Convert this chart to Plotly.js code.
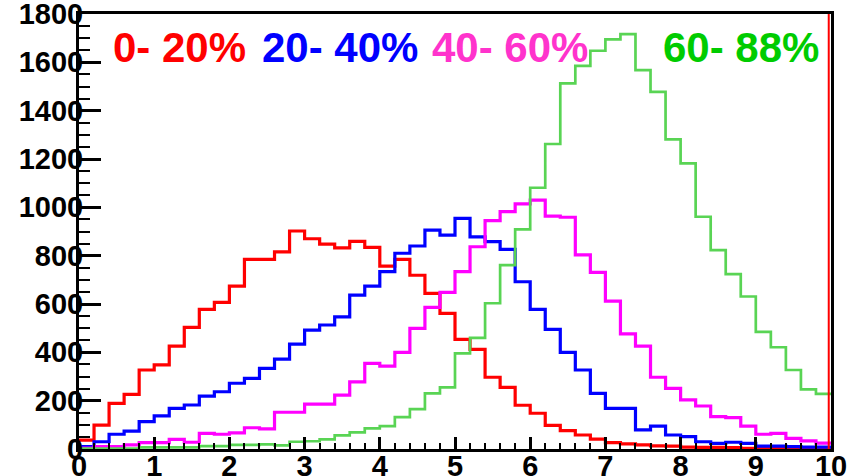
<!DOCTYPE html>
<html>
<head>
<meta charset="utf-8">
<script src="https://cdn.plot.ly/plotly-3.0.1.min.js"></script>
<style>
html,body{margin:0;padding:0;background:#fff;}
#chart{width:848px;height:476px;}
</style>
</head>
<body>
<div id="chart"></div>
<script>
// Histogram binning: 50 bins of width 0.2 from 0 to 10
const binLow = 0;
const binWidth = 0.2;
const nBins = 50;

const seriesNames = ["0- 20%", "20- 40%", "40- 60%", "60- 88%"];

const cent0_20 = [37, 99, 189, 226, 327, 348, 426, 503, 578, 607,
  674, 785, 785, 816, 902, 870, 848, 832, 859, 834,
  757, 785, 719, 644, 561, 454, 412, 297, 255, 181,
  148, 98, 76, 58, 41, 26, 21, 17, 13, 12,
  8, 7, 7, 6, 3, 2, 2, 1, 1, 1];

const cent20_40 = [10, 30, 61, 74, 113, 137, 168, 182, 219, 237,
  272, 292, 334, 372, 434, 492, 513, 547, 637, 674,
  734, 810, 840, 906, 885, 954, 878, 858, 826, 692,
  578, 495, 400, 327, 230, 168, 168, 79, 95, 58,
  51, 30, 23, 28, 23, 12, 12, 10, 8, 8];

const cent40_60 = [4, 10, 10, 17, 26, 26, 40, 28, 65, 61,
  67, 88, 83, 152, 152, 186, 186, 223, 278, 354,
  343, 400, 499, 586, 648, 734, 837, 945, 982, 1014,
  1030, 964, 959, 803, 731, 612, 476, 426, 297, 251,
  203, 178, 134, 130, 95, 61, 65, 44, 34, 24];

const cent60_88 = [2, 2, 2, 2, 7, 7, 7, 7, 12, 12,
  17, 17, 19, 15, 30, 32, 40, 56, 69, 85,
  95, 132, 165, 230, 255, 396, 460, 603, 761, 909,
  1081, 1262, 1513, 1585, 1648, 1695, 1717, 1568, 1478, 1281,
  1182, 961, 823, 724, 631, 485, 421, 327, 247, 228];

const lineColors = ["#ff0000", "#0000ff", "#ff00ff", "#59d454"];
const textColors = ["#ff0000", "#0000ff", "#ff33cc", "#00cc00"];
const lineWidths = [3.2, 3.2, 3.2, 2.7];
const labelX = [0.043, 0.241, 0.467, 0.774];

const xTickVals = [0,1,2,3,4,5,6,7,8,9,10];
const xTickText = ["0","1","2","3","4","5","6","7","8","9","10"];
const yTickVals = [0,200,400,600,800,1000,1200,1400,1600,1800];
const yTickText = ["0","200","400","600","800","1000","1200","1400","1600","1800"];

const edges = [];
for (let i = 0; i <= nBins; i++) edges.push(+(binLow + i * binWidth).toFixed(6));

function stepTrace(vals, color, width, name) {
  return {
    x: edges,
    y: vals.concat([vals[vals.length - 1]]),
    type: "scatter",
    mode: "lines",
    line: {shape: "hv", color: color, width: width},
    name: name,
    hoverinfo: "skip"
  };
}

const all = [cent0_20, cent20_40, cent40_60, cent60_88];
const data = all.map((v, i) => stepTrace(v, lineColors[i], lineWidths[i], seriesNames[i]));

const tickFont = {family: "Liberation Sans, Arial, sans-serif", size: 29, color: "#000", weight: "bold"};

const layout = {
  width: 848,
  height: 476,
  margin: {l: 79, r: 17, t: 14, b: 27, pad: 0},
  paper_bgcolor: "#fff",
  plot_bgcolor: "#fff",
  showlegend: false,
  xaxis: {
    range: [0, 10],
    tickmode: "array",
    tickvals: xTickVals,
    ticktext: xTickText,
    ticks: "inside",
    ticklen: 12,
    tickwidth: 3,
    tickcolor: "#000",
    showline: true,
    linecolor: "#000",
    linewidth: 3,
    mirror: true,
    showgrid: false,
    zeroline: false,
    tickfont: tickFont,
    ticklabelstandoff: -11,
    ticklabeloverflow: "allow",
    minor: {ticks: "inside", dtick: 0.2, tick0: 0, ticklen: 6, tickwidth: 2, tickcolor: "#000", showgrid: false}
  },
  yaxis: {
    range: [0, 1800],
    tickmode: "array",
    tickvals: yTickVals,
    ticktext: yTickText,
    ticks: "inside",
    ticklen: 22,
    tickwidth: 3,
    tickcolor: "#000",
    showline: true,
    linecolor: "#000",
    linewidth: 3,
    mirror: true,
    showgrid: false,
    zeroline: false,
    tickfont: tickFont,
    ticklabelstandoff: -13,
    ticklabeloverflow: "allow",
    minor: {ticks: "inside", dtick: 50, tick0: 0, ticklen: 11, tickwidth: 2, tickcolor: "#000", showgrid: false}
  },
  shapes: [{
    type: "line", xref: "paper", yref: "paper",
    x0: 0.997, x1: 0.997, y0: 0, y1: 1,
    line: {color: "#ff0000", width: 2}
  }],
  annotations: seriesNames.map((t, i) => ({
    text: t,
    xref: "paper", yref: "paper",
    x: labelX[i], y: 0.922,
    xanchor: "left", yanchor: "middle",
    showarrow: false,
    font: {family: "Liberation Sans, Arial, sans-serif", size: 42, color: textColors[i], weight: "bold"}
  }))
};

Plotly.newPlot("chart", data, layout, {displayModeBar: false, staticPlot: true});
</script>
</body>
</html>
